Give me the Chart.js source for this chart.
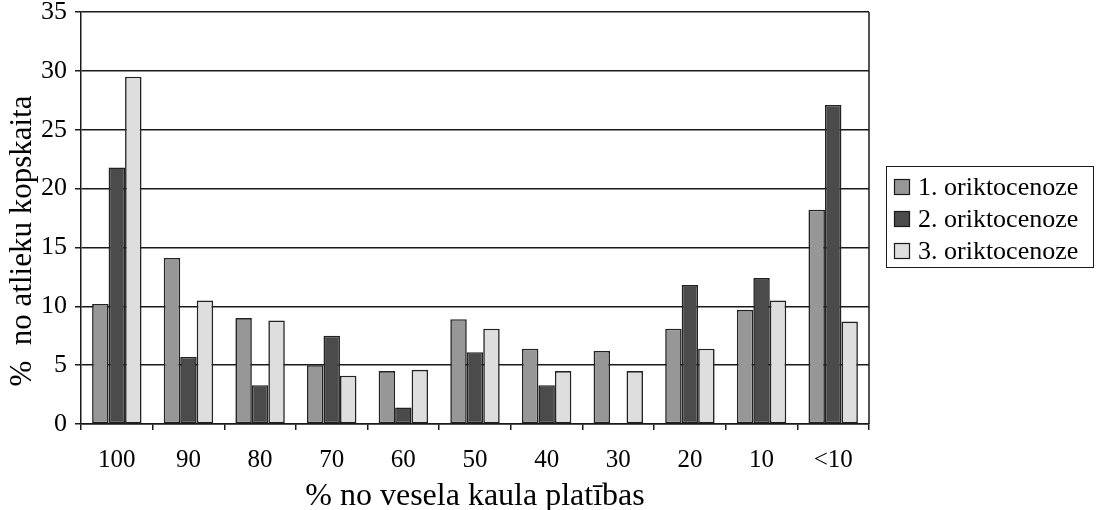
<!DOCTYPE html>
<html>
<head>
<meta charset="utf-8">
<script src="https://cdn.jsdelivr.net/npm/chart.js@4/dist/chart.umd.min.js"></script>
<style>
  html, body { margin: 0; padding: 0; background: #ffffff; }
  #wrap { width: 1099px; height: 510px; position: relative; }
</style>
</head>
<body>
<div id="wrap"><canvas id="c" width="1099" height="510"></canvas></div>
<script>
// Share of remains by preserved bone surface, three oryctocoenoses
const categories = ['100', '90', '80', '70', '60', '50', '40', '30', '20', '10', '<10'];
const series1 = [10.2, 14.1, 9.0, 5.0, 4.5, 8.9, 6.4, 6.2, 8.1, 9.7, 18.2];
const series2 = [21.8, 5.7, 3.3, 7.5, 1.4, 6.1, 3.3, 0, 11.8, 12.4, 27.1];
const series3 = [29.5, 10.5, 8.8, 4.1, 4.6, 8.1, 4.5, 4.5, 6.4, 10.5, 8.7];
const seriesNames = ['1. oriktocenoze', '2. oriktocenoze', '3. oriktocenoze'];
const yTicks = [0, 5, 10, 15, 20, 25, 30, 35];
const xTitle = '% no vesela kaula platības';
const yTitle = '%  no atlieku kopskaita';

const FONT = '"Liberation Serif", "Times New Roman", serif';
const INK = '#1a1a1a';

// Plot frame, rotated value-axis title and a boxed legend on the right
const framePlugin = {
  id: 'frame',
  afterDatasetsDraw(chart) {
    const { ctx, chartArea: a } = chart;
    ctx.save();
    ctx.strokeStyle = INK;
    ctx.lineWidth = 1.5;
    ctx.beginPath();
    ctx.moveTo(a.right, a.top);
    ctx.lineTo(a.right, a.bottom);
    ctx.stroke();
    ctx.restore();
  },
  afterDraw(chart) {
    const { ctx } = chart;
    ctx.save();
    ctx.translate(23, 241);
    ctx.rotate(-Math.PI / 2);
    ctx.font = '31px ' + FONT;
    ctx.fillStyle = '#000';
    ctx.textAlign = 'center';
    ctx.textBaseline = 'middle';
    ctx.fillText(yTitle, 0, 0);
    ctx.restore();

    const x0 = 886.5, y0 = 166.5, w = 207, h = 101;
    ctx.save();
    ctx.strokeStyle = INK;
    ctx.lineWidth = 1;
    ctx.strokeRect(x0, y0, w, h);
    ctx.font = '26px ' + FONT;
    ctx.textBaseline = 'middle';
    ctx.textAlign = 'left';
    chart.data.datasets.forEach((ds, i) => {
      const cy = 187 + i * 32;
      ctx.fillStyle = ds.backgroundColor;
      ctx.fillRect(894, cy - 8, 16, 16);
      ctx.strokeStyle = INK;
      ctx.lineWidth = 1.2;
      ctx.strokeRect(894.5, cy - 7.5, 15, 15);
      ctx.fillStyle = '#000';
      ctx.fillText(ds.label, 918, cy + 1);
    });
    ctx.restore();
  }
};

const mk = (label, data, color) => ({
  label, data,
  backgroundColor: color,
  borderColor: '#222222',
  borderWidth: 1.6,
  borderSkipped: false,
  categoryPercentage: 0.69,
  barPercentage: 1.0
});

new Chart(document.getElementById('c'), {
  type: 'bar',
  data: {
    labels: categories,
    datasets: [
      mk(seriesNames[0], series1, '#979797'),
      mk(seriesNames[1], series2, '#4b4b4b'),
      mk(seriesNames[2], series3, '#dedede')
    ]
  },
  options: {
    responsive: false,
    animation: false,
    devicePixelRatio: 1,
    layout: { padding: { left: 0, right: 230, top: 12, bottom: 0 } },
    plugins: { legend: { display: false }, tooltip: { enabled: false } },
    scales: {
      x: {
        grid: { offset: true, drawOnChartArea: false, color: INK, lineWidth: 1.5, tickLength: 6, tickColor: INK },
        border: { color: INK, width: 1.5 },
        ticks: { color: '#000', font: { family: FONT, size: 25 }, padding: 15, maxRotation: 0 },
        title: { display: true, text: xTitle, color: '#000', font: { family: FONT, size: 32, lineHeight: 0.85 }, padding: { top: 0, bottom: 0 } },
        afterFit(s) { s.height = 86; }
      },
      y: {
        min: 0, max: 35,
        afterBuildTicks(s) { s.ticks = yTicks.map(v => ({ value: v })); },
        grid: { color: INK, lineWidth: 1.5, tickLength: 6, tickColor: INK },
        border: { color: INK, width: 1.5 },
        ticks: { color: '#000', font: { family: FONT, size: 26 }, padding: 8 },
        title: { display: false },
        afterFit(s) { s.width = 81; s.paddingTop = 0; s.paddingBottom = 0; }
      }
    }
  },
  plugins: [framePlugin]
});
</script>
</body>
</html>
